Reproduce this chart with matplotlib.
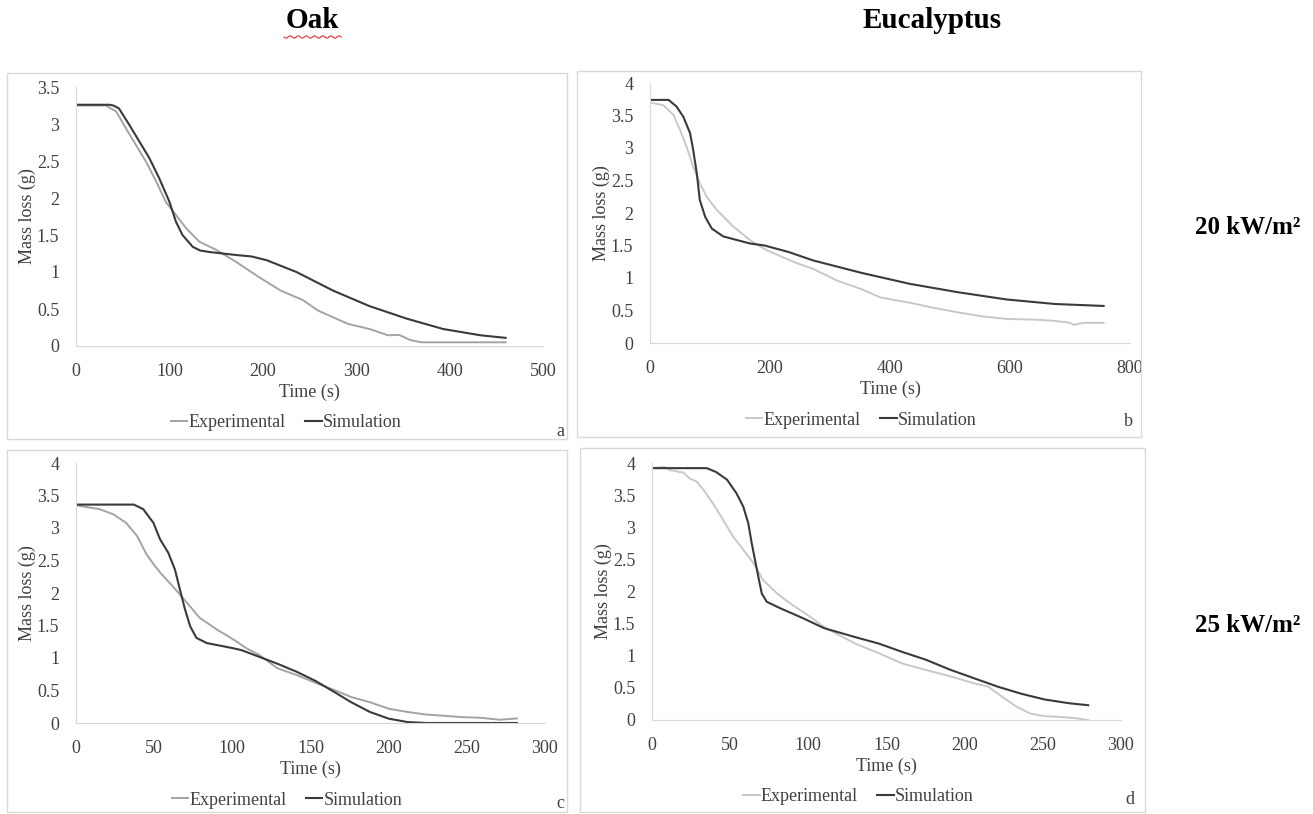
import numpy as np
import matplotlib
matplotlib.use('Agg')
import matplotlib.pyplot as plt
from matplotlib.patches import Rectangle
from matplotlib.lines import Line2D
from matplotlib.ticker import FuncFormatter

plt.rcParams['font.family'] = ['Liberation Serif', 'DejaVu Serif']

# ---- data ----
# (a) Oak, 20 kW/m2
oak20_exp_t = [0, 32, 43, 53.5, 64, 75, 86, 96, 107, 118, 132, 150, 171, 196, 219, 243, 259,
               291, 314, 334, 346, 358, 370, 400, 430, 460]
oak20_exp_m = [3.25, 3.25, 3.17, 2.94, 2.72, 2.49, 2.22, 1.95, 1.77, 1.59, 1.41, 1.30, 1.14,
               0.93, 0.75, 0.62, 0.48, 0.30, 0.23, 0.145, 0.15, 0.08, 0.05, 0.05, 0.05, 0.05]
oak20_sim_t = [0, 36, 40, 46, 57, 68, 78.5, 89, 100, 107, 114, 125, 133, 143, 171, 188, 204,
               236, 275, 314, 354, 393, 433, 460]
oak20_sim_m = [3.26, 3.26, 3.25, 3.21, 2.99, 2.76, 2.54, 2.27, 1.95, 1.68, 1.50, 1.34, 1.29,
               1.27, 1.23, 1.21, 1.16, 1.0, 0.75, 0.54, 0.37, 0.23, 0.145, 0.11]

# (b) Eucalyptus, 20 kW/m2
euc20_exp_t = [0, 22, 39, 50, 61, 72, 83, 94.5, 111, 139, 167, 194, 244, 272, 312, 352, 384,
               433, 473, 514, 554, 594, 640, 675, 700, 706, 722, 756]
euc20_exp_m = [3.70, 3.66, 3.51, 3.28, 3.02, 2.71, 2.46, 2.25, 2.05, 1.79, 1.58, 1.43, 1.23,
               1.14, 0.96, 0.83, 0.70, 0.62, 0.54, 0.47, 0.41, 0.37, 0.36, 0.34, 0.31, 0.28,
               0.31, 0.31]
euc20_sim_t = [0, 31, 44, 55.6, 66.7, 72, 78, 83, 92, 103, 122, 167, 191, 231, 272, 352, 433,
               514, 594, 675, 756]
euc20_sim_m = [3.74, 3.74, 3.64, 3.48, 3.23, 2.97, 2.61, 2.2, 1.94, 1.76, 1.64, 1.53, 1.50,
               1.40, 1.27, 1.08, 0.91, 0.78, 0.67, 0.6, 0.57]

# (c) Oak, 25 kW/m2
oak25_exp_t = [0, 15, 24, 32, 39, 45, 50, 54, 62, 71, 79, 90, 101, 109, 117, 129, 141, 153, 165,
               176, 188, 200, 212, 224, 236, 247, 259, 271, 282]
oak25_exp_m = [3.35, 3.29, 3.21, 3.08, 2.88, 2.60, 2.43, 2.31, 2.10, 1.85, 1.62, 1.44, 1.28,
               1.15, 1.05, 0.84, 0.74, 0.62, 0.51, 0.40, 0.32, 0.22, 0.17, 0.13, 0.11, 0.09,
               0.08, 0.05, 0.07]
oak25_sim_t = [0, 37, 43, 49.5, 53.7, 59, 63.3, 66.5, 69.7, 73, 77, 83.6, 100.6, 106, 117, 129,
               141, 153, 165, 176, 188, 200, 212, 224, 250, 282]
oak25_sim_m = [3.36, 3.36, 3.29, 3.08, 2.83, 2.62, 2.36, 2.05, 1.75, 1.49, 1.31, 1.23, 1.15,
               1.12, 1.02, 0.91, 0.79, 0.65, 0.48, 0.32, 0.17, 0.067, 0.015, 0.0, 0.0, 0.0]

# (d) Eucalyptus, 25 kW/m2
euc25_exp_t = [0, 8, 11.5, 20, 24, 28.6, 33, 39, 45.6, 52, 58.4, 65, 71, 80, 88, 101, 110, 115,
               130, 145, 160, 175, 191, 206, 215, 224, 233, 242, 251, 260, 270, 279]
euc25_exp_m = [3.92, 3.94, 3.89, 3.85, 3.76, 3.71, 3.58, 3.37, 3.11, 2.85, 2.65, 2.44, 2.18,
               1.97, 1.82, 1.61, 1.45, 1.38, 1.19, 1.04, 0.88, 0.78, 0.68, 0.57, 0.52, 0.36,
               0.21, 0.10, 0.06, 0.05, 0.03, 0.0]
euc25_sim_t = [0, 35, 41, 48, 54, 58.4, 61.6, 63.8, 65.9, 68, 70.2, 73.4, 82, 97, 110, 130,
               145, 160, 175, 191, 206, 221, 236, 251, 267, 279]
euc25_sim_m = [3.92, 3.92, 3.86, 3.74, 3.53, 3.32, 3.06, 2.75, 2.49, 2.23, 1.97, 1.84, 1.74,
               1.58, 1.43, 1.29, 1.19, 1.06, 0.94, 0.78, 0.65, 0.52, 0.41, 0.32, 0.26, 0.23]

W, H = 1313, 814
fig = plt.figure(figsize=(W / 100, H / 100), dpi=100)


def fx(px):
    return px / W


def fy(py):
    return 1 - py / H


# grey frames around each chart (as in the Excel export)
for x0, y0, x1, y1 in [(7, 73, 567, 439), (577, 71, 1141, 437),
                       (7, 450, 567, 812), (580, 448, 1145, 812)]:
    fig.add_artist(Rectangle((fx(x0), fy(y1)), fx(x1 - x0), (y1 - y0) / H,
                             fill=False, edgecolor='#d9d9d9', linewidth=1.0))


def panel(rect, t_exp, m_exp, t_sim, m_sim, xmax, xstep, ymax, exp_col, leg_x):
    l, t, r, b = rect
    ax = fig.add_axes([fx(l), fy(b), fx(r - l), (b - t) / H])
    ax.plot(t_exp, m_exp, color=exp_col, lw=1.4, label='Experimental')
    ax.plot(t_sim, m_sim, color='#3a3a3a', lw=1.5, label='Simulation')
    ax.set_xlim(0, xmax)
    ax.set_ylim(0, ymax)
    ax.set_xticks(np.arange(0, xmax + 1, xstep))
    ax.set_yticks(np.arange(0, ymax + 0.01, 0.5))
    ax.yaxis.set_major_formatter(FuncFormatter(lambda v, p: f'{v:g}'))
    for s in ['top', 'right']:
        ax.spines[s].set_visible(False)
    for s in ['left', 'bottom']:
        ax.spines[s].set_color('#d9d9d9')
    ax.tick_params(length=0, labelsize=13, colors='#404040', pad=12)
    ax.set_xlabel('Time (s)', fontsize=13, color='#404040', labelpad=3)
    ax.set_ylabel('Mass loss (g)', fontsize=13, color='#404040', labelpad=0.5)
    ax.legend(loc='center', bbox_to_anchor=(leg_x, -0.297), ncol=2, frameon=False,
              fontsize=13, handlelength=0.9, handletextpad=0.05, columnspacing=1.1,
              labelcolor='#404040')
    return ax


panel((76, 87, 543, 346), oak20_exp_t, oak20_exp_m, oak20_sim_t, oak20_sim_m,
      500, 100, 3.5, '#a3a3a3', 0.45)
panel((650, 83, 1130, 343), euc20_exp_t, euc20_exp_m, euc20_sim_t, euc20_sim_m,
      800, 200, 4, '#c8c8c8', 0.44)
panel((76, 463, 545, 723), oak25_exp_t, oak25_exp_m, oak25_sim_t, oak25_sim_m,
      300, 50, 4, '#a3a3a3', 0.45)
panel((652, 463, 1121, 720), euc25_exp_t, euc25_exp_m, euc25_sim_t, euc25_sim_m,
      300, 50, 4, '#c8c8c8', 0.44)

# panel letters
for lx, ly, s in [(560, 432, 'a'), (1128, 422, 'b'), (560, 803, 'c'), (1130, 800, 'd')]:
    fig.text(fx(lx), fy(ly), s, fontsize=13, color='#404040', ha='center', va='center')

# column / row headings
fig.text(fx(312), fy(20), 'Oak', fontsize=21, fontweight='bold', ha='center', va='center')
fig.text(fx(932), fy(20), 'Eucalyptus', fontsize=21, fontweight='bold', ha='center', va='center')
fig.text(fx(1248), fy(228), '20 kW/m²', fontsize=18, fontweight='bold', ha='center', va='center')
fig.text(fx(1248), fy(625), '25 kW/m²', fontsize=18, fontweight='bold', ha='center', va='center')

# red spell-check squiggle under "Oak"
wx = np.linspace(284, 341, 40)
wy = 37 + 1.2 * np.sin(np.linspace(0, 14 * np.pi, 40))
fig.add_artist(Line2D(fx(wx), fy(wy), color='#e03030', lw=0.8))

fig.savefig('out.png', dpi=100)
